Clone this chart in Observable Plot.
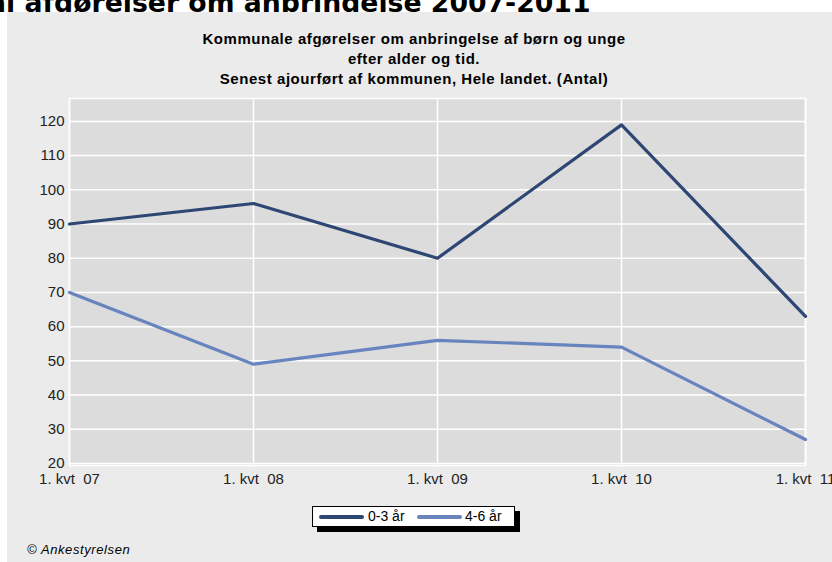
<!DOCTYPE html>
<html>
<head>
<meta charset="utf-8">
<script src="https://cdn.jsdelivr.net/npm/d3@7"></script>
<script src="https://cdn.jsdelivr.net/npm/@observablehq/plot@0.6"></script>
<style>
  html, body { margin:0; padding:0; background:#fff; }
  body { width:832px; height:562px; overflow:hidden; position:relative; font-family:"Liberation Sans", Arial, sans-serif; }
  #toptitle { position:absolute; left:-12px; top:-13px; font:bold 26.7px "DejaVu Sans", Verdana, sans-serif; white-space:nowrap; color:#000; z-index:0; }
  #panel { position:absolute; left:7px; top:12px; width:825px; height:550px; background:#ebebeb; z-index:1; }
  #ctitle { position:absolute; left:0; top:29px; width:828px; text-align:center; font:bold 15px "Liberation Sans", Arial, sans-serif; letter-spacing:0.55px; line-height:20px; color:#000; z-index:2; }
  #chart { position:absolute; left:0; top:90px; z-index:2; }
  #legend { position:absolute; left:312px; top:506px; width:201px; height:19px; background:#fff; border:1px solid #000; box-shadow:5px 5px 0 #000; z-index:2; font:14px "Liberation Sans", Arial, sans-serif; color:#000; }
  .lg { position:absolute; top:0; line-height:19px; white-space:nowrap; }
  .sw { position:absolute; top:8px; height:4px; border-radius:2px; }
  #credit { position:absolute; left:27px; top:542px; font:italic 13px "Liberation Sans", Arial, sans-serif; letter-spacing:0.6px; color:#000; z-index:2; }
</style>
</head>
<body>
<div id="toptitle">al afgørelser om anbringelse 2007-2011</div>
<div id="panel"></div>
<div id="ctitle">Kommunale afgørelser om anbringelse af børn og unge<br>efter alder og tid.<br>Senest ajourført af kommunen, Hele landet. (Antal)</div>
<div id="chart"></div>
<div id="legend"></div>
<div id="credit">© Ankestyrelsen</div>
<script>
const periods = ["1. kvt 07", "1. kvt 08", "1. kvt 09", "1. kvt 10", "1. kvt 11"];
const seriesNames = ["0-3 år", "4-6 år"];
const values0to3 = [90, 96, 80, 119, 63];
const values4to6 = [70, 49, 56, 54, 27];
const yTicks = [20, 30, 40, 50, 60, 70, 80, 90, 100, 110, 120];
const colors = ["#2d4673", "#6884bf"];

const data = [];
periods.forEach((p, i) => {
  data.push({period: p, value: values0to3[i], series: seriesNames[0]});
  data.push({period: p, value: values4to6[i], series: seriesNames[1]});
});

const chart = Plot.plot({
  width: 832,
  height: 410,
  marginLeft: 69,
  marginRight: 27,
  marginTop: 8,
  marginBottom: 35,
  style: {background: "transparent", fontFamily: "'Liberation Sans', Arial, sans-serif", fontSize: "15px", color: "#222", overflow: "visible"},
  x: {type: "point", domain: periods, padding: 0, label: null},
  y: {domain: [19.4, 126.7], label: null},
  color: {domain: seriesNames, range: colors},
  marks: [
    Plot.frame({fill: "#dcdcdc", stroke: null}),
    Plot.gridX({stroke: "#fff", strokeOpacity: 1, strokeWidth: 1.5}),
    Plot.gridY(yTicks, {stroke: "#fff", strokeOpacity: 1, strokeWidth: 1.5}),
    Plot.frame({stroke: "#fff", strokeWidth: 1.5}),
    Plot.axisX({tickSize: 0, tickPadding: 8, fontSize: 15, tickFormat: d => d.replace(/ (\d\d)$/, "\u00a0 $1")}),
    Plot.axisY(yTicks, {tickSize: 0, tickPadding: 5, fontSize: 15}),
    Plot.line(data, {x: "period", y: "value", stroke: "series", z: "series", strokeWidth: 3.2, strokeLinejoin: "round"})
  ]
});
document.getElementById("chart").appendChild(chart);

const legend = document.getElementById("legend");
const items = [
  {name: seriesNames[0], color: colors[0], swLeft: 6, textLeft: 55},
  {name: seriesNames[1], color: colors[1], swLeft: 104, textLeft: 152}
];
items.forEach(it => {
  const sw = document.createElement("div");
  sw.className = "sw";
  sw.style.left = it.swLeft + "px";
  sw.style.width = "45px";
  sw.style.background = it.color;
  legend.appendChild(sw);
  const t = document.createElement("div");
  t.className = "lg";
  t.style.left = it.textLeft + "px";
  t.textContent = it.name;
  legend.appendChild(t);
});
</script>
</body>
</html>
